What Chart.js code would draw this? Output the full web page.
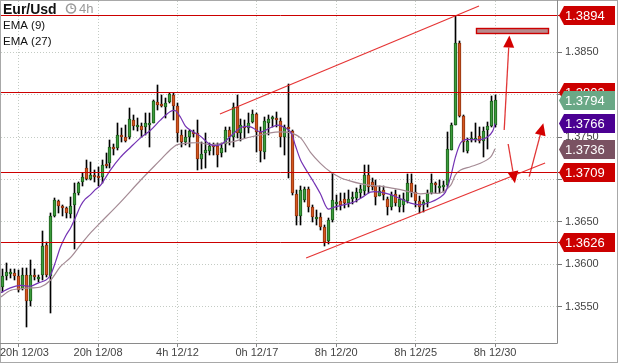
<!DOCTYPE html>
<html><head><meta charset="utf-8">
<script src="https://cdn.jsdelivr.net/npm/chart.js@4/dist/chart.umd.min.js"></script>
<style>html,body{margin:0;padding:0;background:#fff;}#wrap{width:618px;height:363px;}</style>
</head><body><div id="wrap"><canvas id="c" width="618" height="363"></canvas></div>
<script>
// ---- data (4h candles, EUR/USD) ----
// each row: [open, high, low, close], index = candle position
const ohlc = [
[1.3573,1.3594,1.3567,1.3586],[1.3586,1.3601,1.3581,1.3591],[1.3588,1.3594,1.3584,1.3591],[1.3590,1.3594,1.3581,1.3586],
[1.3586,1.3593,1.3567,1.3569],[1.3571,1.3595,1.3569,1.3587],[1.3587,1.3595,1.3526,1.3556],[1.3556,1.3605,1.3551,1.3587],
[1.3587,1.3594,1.3581,1.3585],[1.3582,1.3587,1.3579,1.3585],[1.3587,1.3639,1.3581,1.3621],[1.3623,1.3626,1.3585,1.3587],
[1.3586,1.3660,1.3542,1.3657],[1.3657,1.3678,1.3656,1.3676],[1.3675,1.3676,1.3660,1.3669],[1.3669,1.3670,1.3657,1.3666],
[1.3666,1.3667,1.3654,1.3660],[1.3659,1.3679,1.3654,1.3669],[1.3670,1.3696,1.3618,1.3684],[1.3684,1.3697,1.3682,1.3696],
[1.3697,1.3708,1.3692,1.3703],[1.3713,1.3723,1.3699,1.3700],[1.3700,1.3721,1.3699,1.3705],[1.3705,1.3711,1.3697,1.3703],
[1.3704,1.3715,1.3692,1.3702],[1.3703,1.3723,1.3696,1.3717],[1.3718,1.3731,1.3713,1.3716],[1.3719,1.3747,1.3713,1.3738],
[1.3738,1.3742,1.3729,1.3736],[1.3737,1.3767,1.3735,1.3752],[1.3752,1.3761,1.3744,1.3750],[1.3750,1.3764,1.3744,1.3745],
[1.3750,1.3784,1.3748,1.3771],[1.3770,1.3776,1.3758,1.3763],[1.3762,1.3772,1.3757,1.3764],[1.3763,1.3767,1.3750,1.3758],
[1.3762,1.3778,1.3752,1.3767],[1.3765,1.3778,1.3738,1.3767],[1.3767,1.3794,1.3766,1.3792],[1.3791,1.3811,1.3782,1.3788],
[1.3789,1.3800,1.3785,1.3787],[1.3786,1.3796,1.3772,1.3790],[1.3791,1.3802,1.3790,1.3801],[1.3800,1.3802,1.3770,1.3787],
[1.3787,1.3790,1.3744,1.3755],[1.3752,1.3758,1.3738,1.3744],[1.3744,1.3758,1.3741,1.3750],[1.3750,1.3758,1.3738,1.3757],
[1.3756,1.3758,1.3750,1.3754],[1.3755,1.3770,1.3711,1.3724],[1.3724,1.3744,1.3712,1.3730],[1.3731,1.3755,1.3713,1.3735],
[1.3734,1.3743,1.3729,1.3739],[1.3741,1.3743,1.3729,1.3738],[1.3739,1.3743,1.3715,1.3729],[1.3731,1.3743,1.3726,1.3737],
[1.3742,1.3762,1.3732,1.3758],[1.3758,1.3762,1.3741,1.3750],[1.3750,1.3790,1.3738,1.3785],[1.3785,1.3800,1.3749,1.3755],
[1.3755,1.3771,1.3745,1.3764],[1.3763,1.3770,1.3749,1.3761],[1.3761,1.3778,1.3755,1.3767],[1.3768,1.3782,1.3767,1.3777],
[1.3777,1.3778,1.3732,1.3756],[1.3756,1.3762,1.3721,1.3734],[1.3732,1.3774,1.3724,1.3769],[1.3767,1.3776,1.3752,1.3771],
[1.3771,1.3775,1.3762,1.3774],[1.3772,1.3780,1.3762,1.3770],[1.3769,1.3772,1.3738,1.3750],[1.3750,1.3764,1.3729,1.3762],
[1.3762,1.3813,1.3702,1.3759],[1.3757,1.3758,1.3682,1.3684],[1.3683,1.3688,1.3646,1.3657],[1.3657,1.3692,1.3646,1.3688],
[1.3676,1.3691,1.3673,1.3689],[1.3689,1.3691,1.3662,1.3667],[1.3667,1.3670,1.3650,1.3656],[1.3653,1.3664,1.3646,1.3656],
[1.3656,1.3660,1.3640,1.3644],[1.3644,1.3646,1.3621,1.3626],[1.3627,1.3654,1.3624,1.3652],[1.3652,1.3708,1.3650,1.3676],
[1.3671,1.3682,1.3664,1.3673],[1.3674,1.3684,1.3664,1.3670],[1.3677,1.3684,1.3666,1.3672],[1.3672,1.3688,1.3667,1.3677],
[1.3677,1.3685,1.3671,1.3679],[1.3678,1.3690,1.3673,1.3685],[1.3684,1.3693,1.3678,1.3689],[1.3686,1.3717,1.3682,1.3705],
[1.3705,1.3717,1.3684,1.3691],[1.3697,1.3702,1.3688,1.3691],[1.3692,1.3699,1.3670,1.3679],[1.3681,1.3692,1.3680,1.3686],
[1.3687,1.3692,1.3676,1.3682],[1.3677,1.3679,1.3658,1.3667],[1.3667,1.3685,1.3664,1.3682],[1.3683,1.3688,1.3669,1.3672],
[1.3667,1.3682,1.3662,1.3677],[1.3670,1.3684,1.3662,1.3677],[1.3675,1.3706,1.3672,1.3696],[1.3696,1.3706,1.3679,1.3685],
[1.3685,1.3693,1.3667,1.3675],[1.3675,1.3680,1.3660,1.3667],[1.3670,1.3676,1.3662,1.3673],[1.3673,1.3688,1.3667,1.3684],
[1.3684,1.3706,1.3683,1.3696],[1.3696,1.3697,1.3684,1.3694],[1.3690,1.3699,1.3684,1.3692],[1.3691,1.3698,1.3685,1.3693],
[1.3693,1.3756,1.3691,1.3736],[1.3735,1.3767,1.3735,1.3764],[1.3764,1.3893,1.3764,1.3861],[1.3861,1.3863,1.3774,1.3775],
[1.3775,1.3776,1.3732,1.3744],[1.3733,1.3749,1.3731,1.3745],[1.3746,1.3756,1.3744,1.3749],[1.3746,1.3767,1.3744,1.3749],
[1.3751,1.3762,1.3743,1.3745],[1.3745,1.3762,1.3726,1.3757],[1.3758,1.3768,1.3736,1.3763],[1.3763,1.3798,1.3762,1.3793],
[1.3764,1.3800,1.3762,1.3794]
];
// EMA (9): [candle index, value]
const ema9 = [[-0.6,1.3566],[1.9,1.3572],[4.5,1.3575],[7.0,1.3574],[9.0,1.3578],[10.8,1.3581],[12.0,1.3587],[13.3,1.3603],
[14.5,1.3620],[15.8,1.3633],[17.1,1.3643],[18.3,1.3655],[19.6,1.3669],[20.8,1.3677],[22.1,1.3682],[23.3,1.3688],[24.6,1.3693],
[27.1,1.3711],[29.6,1.3726],[32.2,1.3738],[34.7,1.3749],[37.2,1.3758],[39.7,1.3770],[42.2,1.3780],[43.5,1.3781],[44.8,1.3773],
[46.0,1.3763],[47.3,1.3758],[49.8,1.3751],[52.3,1.3741],[54.8,1.3741],[57.4,1.3751],[59.9,1.3761],[62.4,1.3762],[64.9,1.3756],
[67.4,1.3761],[69.2,1.3764],[70.7,1.3762],[72.5,1.3756],[73.7,1.3740],[75.0,1.3723],[76.7,1.3709],[78.3,1.3697],[80.0,1.3683],
[81.3,1.3669],[82.0,1.3665],[83.3,1.3667],[85.8,1.3670],[88.3,1.3673],[90.9,1.3680],[92.6,1.3685],[95.1,1.3685],[97.7,1.3682],
[100.2,1.3677],[102.7,1.3672],[105.2,1.3670],[107.7,1.3673],[110.2,1.3679],[111.5,1.3685],[112.8,1.3703],[114.0,1.3726],
[115.3,1.3743],[116.5,1.3747],[117.8,1.3747],[120.3,1.3747],[122.1,1.3750],[123.4,1.3757],[124,1.3766]];
// EMA (27)
const ema27 = [[-0.6,1.3561],[1.9,1.3569],[4.5,1.3571],[7.0,1.3572],[9.5,1.3573],[12.0,1.3581],[14.5,1.3597],[17.1,1.3608],
[19.6,1.3623],[22.1,1.3637],[24.6,1.3649],[29.6,1.3673],[34.7,1.3699],[39.7,1.3723],[42.2,1.3735],[44.0,1.3741],[47.3,1.3743],
[49.8,1.3743],[52.3,1.3741],[57.4,1.3744],[62.4,1.3750],[67.4,1.3755],[69.9,1.3756],[72.5,1.3755],[75.0,1.3749],[77.5,1.3732],
[80.0,1.3719],[82.5,1.3709],[85.1,1.3702],[87.6,1.3698],[90.1,1.3695],[92.6,1.3693],[95.1,1.3692],[97.7,1.3690],[100.2,1.3688],
[102.7,1.3685],[105.2,1.3683],[107.7,1.3684],[110.2,1.3684],[112.8,1.3693],[114.0,1.3705],[115.3,1.3711],[117.8,1.3715],
[120.3,1.3719],[122.8,1.3726],[124,1.3736]];
const tickIdx = [4,24,44,64,84,104,124];
const tickLabels = ['20h 12/03','20h 12/08','4h 12/12','0h 12/17','8h 12/20','8h 12/25','8h 12/30'];
const yTicks = [1.3550,1.3600,1.3650,1.3700,1.3750,1.3800,1.3850];
const levels = [1.3894,1.3803,1.3709,1.3626];
const trendLines = [[54.7,1.37772,119.95,1.39046],[76.4,1.36073,136.6,1.37194]];
const targetBox = [119.2,1.38783,137.4,1.38724];
const arrows = [[126.3,1.37583,127.6,1.38698],[127.3,1.37418,129.0,1.36954],[132.6,1.37032,136.15,1.37662]];

const FONT = '"Liberation Sans", Arial, sans-serif';
const UP_FILL='#3c9c3c', UP_LINE='#1c5e1c', DN_FILL='#d4561e', DN_LINE='#8e3210';
const RED='#cc0000';
const lastClose = ohlc[ohlc.length-1][3];
const priceTags = [
  {v:levels[0], c:RED}, {v:levels[1], c:RED},
  {v:lastClose, c:'#6aa886'},
  {v:ema9[ema9.length-1][1], c:'#4b0092'},
  {v:ema27[ema27.length-1][1], c:'#7a5262'},
  {v:levels[2], c:RED}, {v:levels[3], c:RED}
];

const crisp = {
  id:'crisp',
  afterDatasetsUpdate(chart){
    [0,1].forEach(di=>{
      chart.getDatasetMeta(di).data.forEach(el=>{
        el.x = Math.floor(el.x)+0.5;
        let y=Math.round(el.y), b=Math.round(el.base);
        const mh = di===0?2:1;
        if (Math.abs(b-y)<mh){ if(b>=y) b=y+mh; else y=b+mh; }
        el.y=y; el.base=b;
      });
    });
  }
};

const overlay = {
  id:'overlay',
  afterDatasetsDraw(chart){
    const {ctx, chartArea:a, scales:{x,y}} = chart;
    ctx.save();
    ctx.strokeStyle=RED; ctx.lineWidth=1;
    levels.forEach(v=>{
      const py=Math.round(y.getPixelForValue(v))+0.5;
      ctx.beginPath(); ctx.moveTo(a.left,py); ctx.lineTo(560,py); ctx.stroke();
    });
    ctx.beginPath(); ctx.rect(a.left,a.top,a.right-a.left,a.bottom-a.top); ctx.clip();
    ctx.strokeStyle='rgba(226,30,30,0.9)'; ctx.lineWidth=1.2;
    trendLines.forEach(t=>{
      ctx.beginPath(); ctx.moveTo(x.getPixelForValue(t[0]),y.getPixelForValue(t[1]));
      ctx.lineTo(x.getPixelForValue(t[2]),y.getPixelForValue(t[3])); ctx.stroke();
    });
    const bx1=Math.round(x.getPixelForValue(targetBox[0]))+0.5, bx2=Math.round(x.getPixelForValue(targetBox[2]))+0.5;
    const by1=Math.round(y.getPixelForValue(targetBox[1]))+0.5, by2=Math.round(y.getPixelForValue(targetBox[3]))+0.5;
    ctx.fillStyle='#b88a8c'; ctx.fillRect(bx1,by1,bx2-bx1,by2-by1);
    ctx.strokeStyle=RED; ctx.lineWidth=1.4; ctx.strokeRect(bx1,by1,bx2-bx1,by2-by1);
    arrows.forEach(r=>{
      const x1=x.getPixelForValue(r[0]), y1=y.getPixelForValue(r[1]);
      const x2=x.getPixelForValue(r[2]), y2=y.getPixelForValue(r[3]);
      const ang=Math.atan2(y2-y1,x2-x1), L=12, W=5.5;
      const bxp=x2-L*Math.cos(ang), byp=y2-L*Math.sin(ang);
      ctx.strokeStyle='rgba(220,20,20,0.85)'; ctx.lineWidth=1.3;
      ctx.beginPath(); ctx.moveTo(x1,y1); ctx.lineTo(bxp,byp); ctx.stroke();
      ctx.fillStyle='#d40000';
      ctx.beginPath(); ctx.moveTo(x2,y2);
      ctx.lineTo(bxp+W*Math.sin(ang), byp-W*Math.cos(ang));
      ctx.lineTo(bxp-W*Math.sin(ang), byp+W*Math.cos(ang));
      ctx.closePath(); ctx.fill();
    });
    ctx.restore();
  },
  afterDraw(chart){
    const {ctx, chartArea:a, scales:{x,y}} = chart;
    ctx.save();
    ctx.strokeStyle='#a8a8a8'; ctx.lineWidth=1;
    ctx.strokeRect(0.5,0.5,617,362);
    ctx.strokeStyle='#8a8a8a';
    ctx.beginPath(); ctx.moveTo(a.right+0.5,0); ctx.lineTo(a.right+0.5,a.bottom+0.5); ctx.lineTo(0,a.bottom+0.5); ctx.stroke();
    ctx.font='11px '+FONT; ctx.fillStyle='#444'; ctx.textBaseline='middle'; ctx.textAlign='center';
    tickIdx.forEach((v,i)=>{
      const w=ctx.measureText(tickLabels[i]).width;
      const px=Math.max(x.getPixelForValue(v), w/2);
      ctx.fillText(tickLabels[i], px, 353);
    });
    ctx.textAlign='left';
    priceTags.forEach(t=>{
      const cy=Math.round(y.getPixelForValue(t.v));
      ctx.fillStyle=t.c;
      ctx.beginPath(); ctx.moveTo(559,cy+0.5); ctx.lineTo(564,cy-9); ctx.lineTo(615,cy-9); ctx.lineTo(615,cy+10);
      ctx.lineTo(564,cy+10); ctx.closePath(); ctx.fill();
      ctx.fillStyle='#fff'; ctx.font='13px '+FONT; ctx.fillText(t.v.toFixed(4),565,cy+1);
    });
    ctx.textBaseline='alphabetic';
    ctx.fillStyle='#111'; ctx.font='bold 14px '+FONT; ctx.fillText('Eur/Usd',3,14);
    ctx.strokeStyle='#999'; ctx.lineWidth=1.6;
    ctx.beginPath(); ctx.arc(71,8.5,4.5,0,Math.PI*2); ctx.stroke();
    ctx.lineWidth=1.2; ctx.beginPath(); ctx.moveTo(71,8.5); ctx.lineTo(71,5.5); ctx.moveTo(71,8.5); ctx.lineTo(73.5,8.5); ctx.stroke();
    ctx.fillStyle='#999'; ctx.font='13px '+FONT; ctx.fillText('4h',79,13);
    ctx.fillStyle='#111'; ctx.font='11.5px '+FONT;
    ctx.fillText('EMA (9)',3,28.5); ctx.fillText('EMA (27)',3,44.5);
    ctx.restore();
  }
};

const isUp = d => d[3] >= d[0];
const GRID = '#c4cbc4';
const noPad = s => { s.paddingTop=0; s.paddingBottom=0; s.paddingLeft=0; s.paddingRight=0; };
new Chart(document.getElementById('c'), {
  type:'bar',
  data:{ datasets:[
    { label:'body', order:1, grouped:false, barThickness:3, borderWidth:1, borderSkipped:false,
      data: ohlc.map((d,i)=>({x:i, y:[d[0],d[3]]})),
      backgroundColor: ohlc.map(d=>isUp(d)?UP_FILL:DN_FILL),
      borderColor: ohlc.map(d=>isUp(d)?UP_LINE:DN_LINE) },
    { label:'wick', order:2, grouped:false, barThickness:1, borderWidth:0, backgroundColor:'#000',
      data: ohlc.map((d,i)=>({x:i, y:[d[2],d[1]]})) },
    { type:'line', label:'EMA (9)', order:0, data: ema9.map(p=>({x:p[0],y:p[1]})),
      borderColor:'#7433b4', borderWidth:1.2, pointRadius:0, tension:0.3, fill:false },
    { type:'line', label:'EMA (27)', order:0, data: ema27.map(p=>({x:p[0],y:p[1]})),
      borderColor:'#a48a94', borderWidth:1.2, pointRadius:0, tension:0.3, fill:false }
  ]},
  options:{
    responsive:false, animation:false, devicePixelRatio:1,
    layout:{padding:{top:1,left:1,right:0,bottom:0}},
    plugins:{legend:{display:false}, tooltip:{enabled:false}},
    events:[],
    scales:{
      x:{ type:'linear', min:-0.453, max:139.6, offset:false,
          afterBuildTicks:s=>{ s.ticks = tickIdx.map(v=>({value:v})); },
          afterFit:s=>{ s.height=20; noPad(s); },
          ticks:{display:false},
          grid:{offset:false, color:GRID, lineWidth:1, drawTicks:true, tickLength:4, tickColor:'#888'},
          border:{display:false, dash:[1,2]} },
      y:{ type:'linear', position:'right', min:1.35070, max:1.39105, beginAtZero:false,
          afterBuildTicks:s=>{ s.ticks = yTicks.map(v=>({value:v})); },
          afterFit:s=>{ s.width=61; noPad(s); },
          ticks:{ callback:v=>Number(v).toFixed(4), color:'#444', padding:3, font:{family:FONT,size:11}, autoSkip:false },
          grid:{ color:GRID, lineWidth:1, drawTicks:true, tickLength:5, tickColor:'#777' },
          border:{display:false, dash:[1,2]} }
    }
  },
  plugins:[crisp, overlay]
});
</script></body></html>
